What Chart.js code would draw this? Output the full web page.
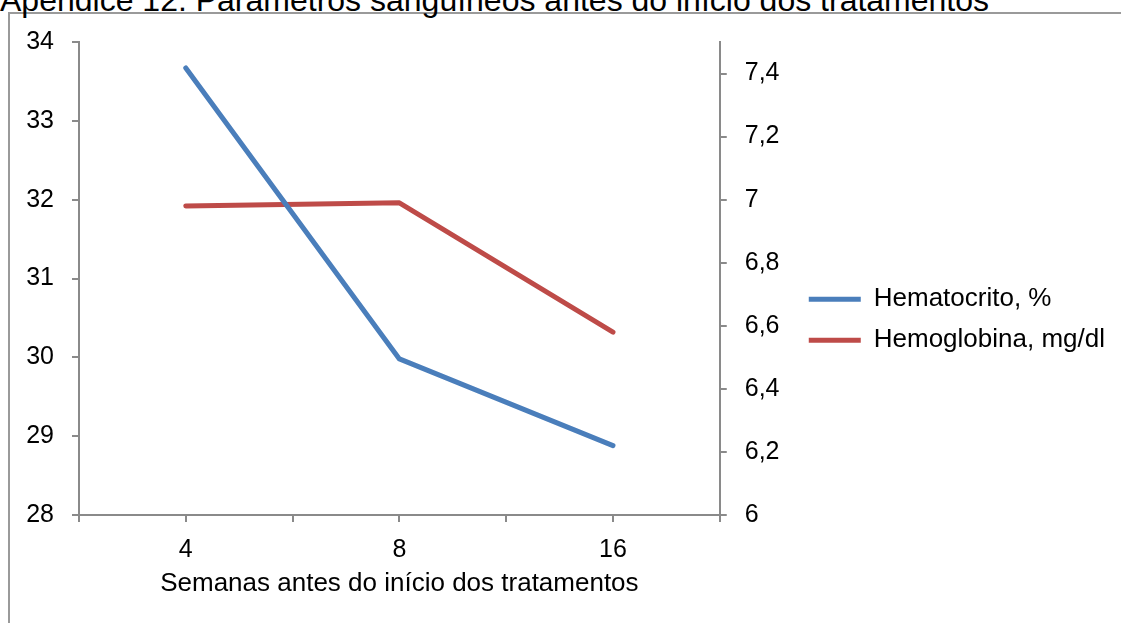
<!DOCTYPE html>
<html>
<head>
<meta charset="utf-8">
<script src="https://cdn.jsdelivr.net/npm/chart.js@4/dist/chart.umd.min.js"></script>
<style>
  html, body { margin: 0; padding: 0; background: #ffffff; overflow: hidden; }
  #wrap { position: relative; width: 1121px; height: 623px; }
  #frame { position: absolute; left: 8px; top: 12px; width: 1200px; height: 700px;
           border-left: 2px solid #9a9a9a; border-top: 2px solid #9a9a9a; }
  #title { position: absolute; left: 0px; top: -16px; font-family: "Liberation Sans", Arial, sans-serif;
           font-size: 32px; line-height: 32px; color: #000; white-space: nowrap; }
  #c { position: absolute; left: 0; top: 0; }
</style>
</head>
<body>
<div id="wrap">
  <div id="frame"></div>
  <div id="title">Apêndice 12. Parâmetros sanguíneos antes do início dos tratamentos</div>
  <canvas id="c" width="1121" height="623"></canvas>
</div>
<script>
const categories = ['4', '8', '16'];
const seriesNames = ['Hematocrito, %', 'Hemoglobina, mg/dl'];
const hematocrito = [33.67, 29.98, 28.88];
const hemoglobina = [6.98, 6.99, 6.58];
const leftTicks = [28, 29, 30, 31, 32, 33, 34];
const rightTicks = [6, 6.2, 6.4, 6.6, 6.8, 7, 7.2, 7.4];
const xAxisTitle = 'Semanas antes do início dos tratamentos';

const FONT = "'Liberation Sans', Arial, sans-serif";
const AXIS = '#8a8a8a';

const toPoints = arr => arr.map((v, i) => ({ x: 2 * i + 1, y: v }));

new Chart(document.getElementById('c'), {
  type: 'line',
  data: {
    datasets: [
      { label: seriesNames[0], data: toPoints(hematocrito), yAxisID: 'y',
        borderColor: '#4a7ebb', backgroundColor: '#4a7ebb', borderWidth: 5,
        borderCapStyle: 'round', borderJoinStyle: 'round', pointRadius: 0, tension: 0 },
      { label: seriesNames[1], data: toPoints(hemoglobina), yAxisID: 'y1',
        borderColor: '#be4b48', backgroundColor: '#be4b48', borderWidth: 5,
        borderCapStyle: 'round', borderJoinStyle: 'round', pointRadius: 0, tension: 0 }
    ]
  },
  options: {
    responsive: false,
    animation: false,
    devicePixelRatio: 1,
    layout: { padding: { top: 42, left: 0, right: 6, bottom: 0 } },
    plugins: {
      tooltip: { enabled: false },
      legend: {
        position: 'right',
        align: 'start',
        maxWidth: 400,
        title: { display: true, text: ' ', padding: { top: 228, bottom: 0 }, font: { size: 1 } },
        labels: {
          usePointStyle: true, pointStyle: 'line', pointStyleWidth: 52,
          padding: 15, color: '#000',
          font: { family: FONT, size: 26 }
        }
      }
    },
    scales: {
      x: {
        type: 'linear', min: 0, max: 2 * categories.length,
        grid: { display: true, drawOnChartArea: false, drawTicks: true, tickLength: 7, color: AXIS, lineWidth: 2 },
        border: { display: true, color: AXIS, width: 2 },
        ticks: {
          stepSize: 1, autoSkip: false, maxRotation: 0, padding: 13, color: '#000',
          font: { family: FONT, size: 25 },
          callback: v => (v % 2 === 1 ? categories[(v - 1) / 2] : '')
        },
        title: { display: true, text: xAxisTitle, color: '#000', font: { family: FONT, size: 26 },
                 padding: { top: 4, bottom: 24 } },
        afterFit: s => { s.height = 108; }
      },
      y: {
        position: 'left', min: leftTicks[0], max: leftTicks[leftTicks.length - 1],
        grid: { display: true, drawOnChartArea: false, drawTicks: true, tickLength: 7, color: AXIS, lineWidth: 2 },
        border: { display: true, color: AXIS, width: 2 },
        afterBuildTicks: s => { s.ticks = leftTicks.map(v => ({ value: v })); },
        ticks: { padding: 18, color: '#000', font: { family: FONT, size: 25 } },
        afterFit: s => { s.width = 79; }
      },
      y1: {
        position: 'right', min: 6, max: 7.5,
        grid: { display: true, drawOnChartArea: false, drawTicks: true, tickLength: 7, color: AXIS, lineWidth: 2 },
        border: { display: true, color: AXIS, width: 2 },
        afterBuildTicks: s => { s.ticks = rightTicks.map(v => ({ value: v })); },
        ticks: { padding: 18, color: '#000', font: { family: FONT, size: 25 },
                 callback: v => String(Math.round(v * 10) / 10).replace('.', ',') },
        afterFit: s => { s.width = 74; }
      }
    }
  }
});
</script>
</body>
</html>
